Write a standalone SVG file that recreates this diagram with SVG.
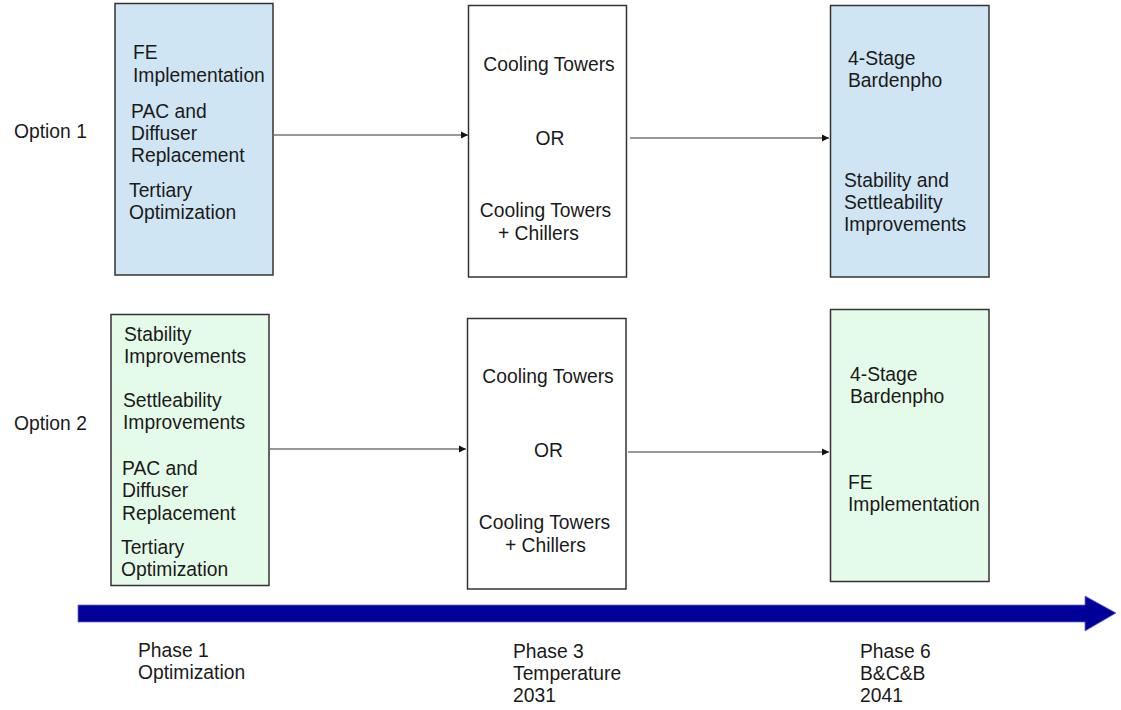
<svg xmlns="http://www.w3.org/2000/svg" width="1121" height="710" viewBox="0 0 1121 710">
<style>
text{font-family:"Liberation Sans",Arial,sans-serif;font-size:19.3px;fill:#1a1a1a}
.box{stroke:#333;stroke-width:1.5}
.blue{fill:#cfe5f3}
.green{fill:#e5fbe9}
.white{fill:#fff}
.conn{stroke:#333;stroke-width:1.2;fill:none}
.mid{text-anchor:middle}
</style>
<defs>
<marker id="ah" markerWidth="8" markerHeight="8" refX="7" refY="4" orient="auto" markerUnits="userSpaceOnUse">
<path d="M0,0.5 L7,4 L0,7.5 Z" fill="#111"/>
</marker>
</defs>
<rect width="1121" height="710" fill="#fff"/>
<g id="labels">
<text x="14" y="138">Option 1</text>
<text x="14" y="430">Option 2</text>
</g>
<g id="connectors">
<line class="conn" x1="274" y1="135" x2="468" y2="135" marker-end="url(#ah)"/>
<line class="conn" x1="630" y1="138" x2="829" y2="138" marker-end="url(#ah)"/>
<line class="conn" x1="270" y1="449" x2="466" y2="449" marker-end="url(#ah)"/>
<line class="conn" x1="628" y1="452" x2="829" y2="452" marker-end="url(#ah)"/>
</g>
<g id="opt1-phase1">
<rect class="box blue" x="115" y="3.5" width="158" height="271.5"/>
<text x="133" y="59">FE</text>
<text x="133" y="82">Implementation</text>
<text x="131" y="118">PAC and</text>
<text x="131" y="140">Diffuser</text>
<text x="131" y="162">Replacement</text>
<text x="129" y="197">Tertiary</text>
<text x="129" y="219">Optimization</text>
</g>
<g id="opt1-phase3">
<rect class="box white" x="468.5" y="5.5" width="158" height="271.5"/>
<text class="mid" x="549" y="71">Cooling Towers</text>
<text class="mid" x="550" y="145">OR</text>
<text class="mid" x="545.5" y="217">Cooling Towers</text>
<text x="498" y="240">+ Chillers</text>
</g>
<g id="opt1-phase6">
<rect class="box blue" x="830.5" y="5.5" width="158.5" height="271.5"/>
<text x="848" y="65">4-Stage</text>
<text x="848" y="87">Bardenpho</text>
<text x="844" y="187">Stability and</text>
<text x="844" y="209">Settleability</text>
<text x="844" y="231">Improvements</text>
</g>
<g id="opt2-phase1">
<rect class="box green" x="111" y="314.5" width="158" height="271"/>
<text x="124" y="341">Stability</text>
<text x="124" y="363">Improvements</text>
<text x="123" y="407">Settleability</text>
<text x="123" y="429">Improvements</text>
<text x="122" y="475">PAC and</text>
<text x="122" y="497">Diffuser</text>
<text x="122" y="520">Replacement</text>
<text x="121" y="554">Tertiary</text>
<text x="121" y="576">Optimization</text>
</g>
<g id="opt2-phase3">
<rect class="box white" x="467.5" y="318.5" width="158.5" height="270.5"/>
<text class="mid" x="548" y="383">Cooling Towers</text>
<text class="mid" x="548.5" y="457">OR</text>
<text class="mid" x="544.5" y="529">Cooling Towers</text>
<text x="505" y="552">+ Chillers</text>
</g>
<g id="opt2-phase6">
<rect class="box green" x="830.5" y="309.5" width="158.5" height="272"/>
<text x="850" y="381">4-Stage</text>
<text x="850" y="403">Bardenpho</text>
<text x="848" y="489">FE</text>
<text x="848" y="511">Implementation</text>
</g>
<g id="timeline">
<path d="M78,605 L1085,605 L1085,596 L1116,613 L1085,631 L1085,622 L78,622 Z" fill="#000099" stroke="#6b6bd0" stroke-width="0.8"/>
</g>
<g id="phases">
<text x="138" y="657">Phase 1</text>
<text x="138" y="679">Optimization</text>
<text x="513" y="658">Phase 3</text>
<text x="513" y="680">Temperature</text>
<text x="513" y="702">2031</text>
<text x="860" y="658">Phase 6</text>
<text x="860" y="680">B&amp;C&amp;B</text>
<text x="860" y="702">2041</text>
</g>
</svg>
